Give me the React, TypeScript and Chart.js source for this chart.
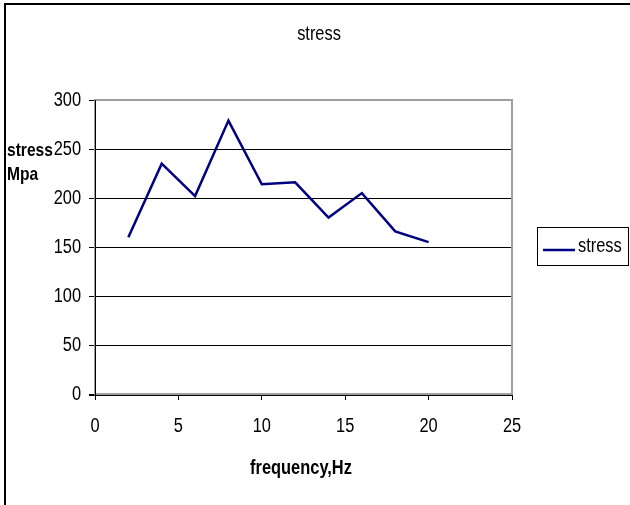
import React, { useEffect, useRef } from "react";
import { Chart, registerables } from "chart.js";

Chart.register(...registerables);

// frequency (Hz) against stress (MPa)
const frequencies = [2, 4, 6, 8, 10, 12, 14, 16, 18, 20];
const stressValues = [160, 235, 202, 279, 214, 216, 180, 205, 166, 155];
const seriesName = "stress";
const chartTitle = "stress";
const xAxisTitle = "frequency,Hz";
const yAxisTitleLines = ["stress", "Mpa"];

const FONT = "'Liberation Sans', Arial, sans-serif";
const LINE_COLOR = "#000080";
const NARROW = 0.82; // horizontal squeeze for a narrow sans look

function narrowText(ctx: CanvasRenderingContext2D, text: string, x: number, y: number, font: string, align: CanvasTextAlign) {
  ctx.save();
  ctx.font = font;
  ctx.textAlign = align;
  ctx.textBaseline = "middle";
  ctx.fillStyle = "#000";
  ctx.translate(x, y);
  ctx.scale(NARROW, 1);
  ctx.fillText(text, 0, 0);
  ctx.restore();
}

const decorations = {
  id: "decorations",
  beforeDatasetsDraw(chart: any) {
    const { ctx, chartArea: a } = chart;
    ctx.save();
    // plot frame
    ctx.strokeStyle = "#a0a0a0";
    ctx.lineWidth = 2;
    ctx.strokeRect(a.left, a.top, a.right - a.left, a.bottom - a.top);
    // axis lines
    ctx.strokeStyle = "#000";
    ctx.lineWidth = 1;
    ctx.beginPath();
    ctx.moveTo(a.left + 0.5, a.top);
    ctx.lineTo(a.left + 0.5, a.bottom + 1);
    ctx.moveTo(a.left - 6, a.bottom + 1.5);
    ctx.lineTo(a.right + 1, a.bottom + 1.5);
    ctx.stroke();
    ctx.restore();
  },
  afterDraw(chart: any) {
    const { ctx, width, height } = chart;
    const xs = chart.scales.x;
    const ys = chart.scales.y;
    ctx.save();
    // outer border (top and left)
    ctx.fillStyle = "#000";
    ctx.fillRect(4, 3, width - 4, 2);
    ctx.fillRect(4, 3, 2, height - 3);
    ctx.restore();

    const regular = `20px ${FONT}`;
    const bold = `bold 20px ${FONT}`;

    // tick labels, placed by the scales
    xs.ticks.forEach((t: any) =>
      narrowText(ctx, String(t.value), xs.getPixelForValue(t.value), 426, regular, "center")
    );
    ys.ticks.forEach((t: any) =>
      narrowText(ctx, String(t.value), 81, ys.getPixelForValue(t.value), regular, "right")
    );

    // titles
    narrowText(ctx, chartTitle, 319, 34, regular, "center");
    narrowText(ctx, xAxisTitle, 301, 468, bold, "center");
    yAxisTitleLines.forEach((t, i) => narrowText(ctx, t, 7, 151 + i * 24, `bold 19px ${FONT}`, "left"));

    // legend
    ctx.save();
    ctx.strokeStyle = "#000";
    ctx.lineWidth = 1;
    ctx.strokeRect(537.5, 227.5, 91, 38);
    ctx.strokeStyle = LINE_COLOR;
    ctx.lineWidth = 2.5;
    ctx.beginPath();
    ctx.moveTo(543, 250);
    ctx.lineTo(575, 250);
    ctx.stroke();
    ctx.restore();
    narrowText(ctx, seriesName, 578, 246, regular, "left");
  },
};

export default function App() {
  const canvasRef = useRef<HTMLCanvasElement>(null);

  useEffect(() => {
    document.body.style.margin = "0";
    const chart = new Chart(canvasRef.current!, {
      type: "line",
      data: {
        datasets: [
          {
            label: seriesName,
            data: frequencies.map((f, i) => ({ x: f, y: stressValues[i] })),
            borderColor: LINE_COLOR,
            borderWidth: 2.5,
            pointRadius: 0,
            tension: 0,
            fill: false,
          },
        ],
      },
      options: {
        animation: false,
        responsive: false,
        devicePixelRatio: 1,
        layout: { padding: { left: 0, top: 100, right: 118, bottom: 81 } },
        plugins: { legend: { display: false }, title: { display: false }, tooltip: { enabled: false } },
        scales: {
          x: {
            type: "linear",
            min: 0,
            max: 25,
            border: { display: false },
            grid: {
              drawOnChartArea: false,
              drawTicks: true,
              tickLength: 6,
              tickColor: "#000",
              color: "#000",
            },
            ticks: {
              stepSize: 5,
              color: "rgba(0,0,0,0)",
              font: { family: FONT, size: 16 },
              maxRotation: 0,
            },
            afterFit: (s: any) => {
              s.height = 30;
            },
          },
          y: {
            min: 0,
            max: 300,
            border: { display: false },
            grid: {
              color: (c: any) =>
                c.tick && (c.tick.value === 0 || c.tick.value === 300) ? "rgba(0,0,0,0)" : "#000",
              tickColor: "#000",
              tickLength: 6,
              lineWidth: 1,
            },
            ticks: {
              stepSize: 50,
              color: "rgba(0,0,0,0)",
              font: { family: FONT, size: 16 },
            },
            afterFit: (s: any) => {
              s.width = 95;
            },
          },
        },
      },
      plugins: [decorations],
    });
    return () => chart.destroy();
  }, []);

  return <canvas ref={canvasRef} width={630} height={505} style={{ display: "block" }} />;
}
